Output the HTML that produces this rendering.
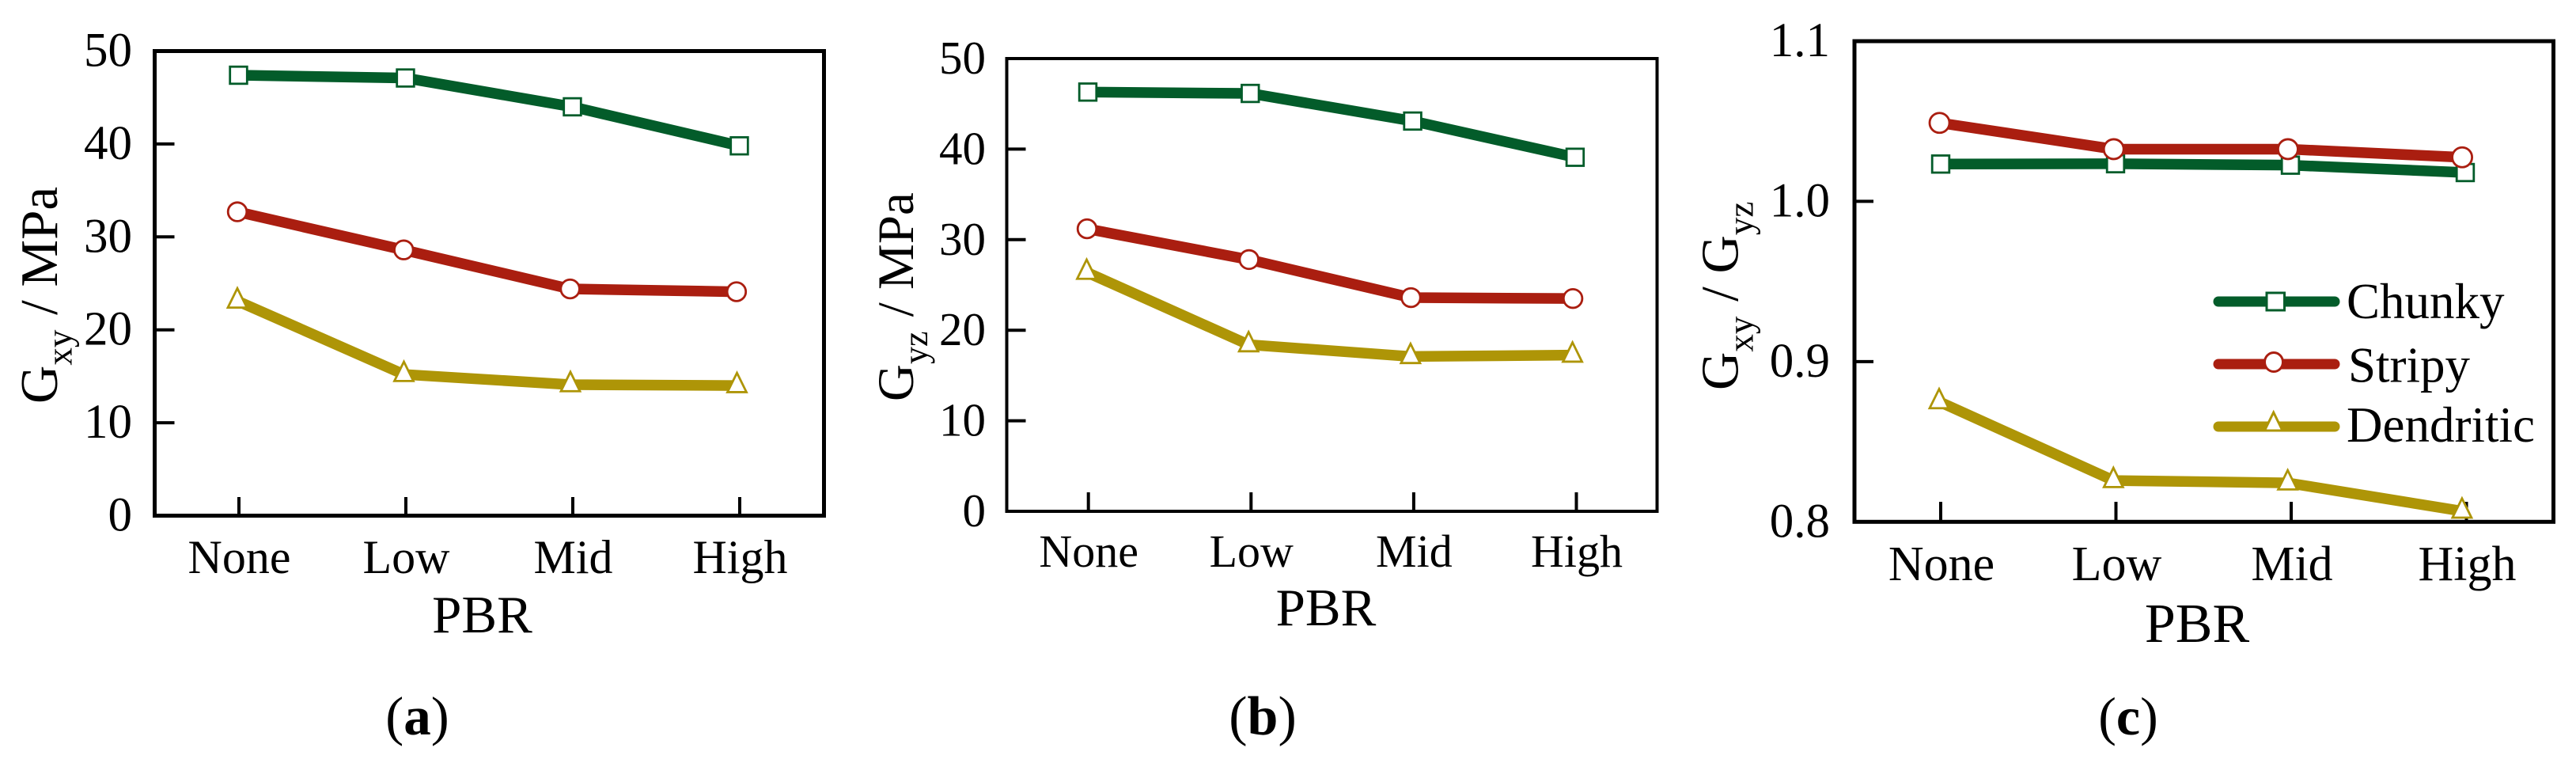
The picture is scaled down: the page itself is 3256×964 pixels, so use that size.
<!DOCTYPE html>
<html lang="en">
<head>
<meta charset="utf-8">
<title>Shear modulus vs PBR</title>
<style>
  html, body { margin: 0; padding: 0; background: #fff; }
  body { width: 3256px; height: 964px; overflow: hidden; }
  svg { display: block; }
  text { font-family: "Liberation Serif", serif; fill: #000; }
</style>
</head>
<body>
<svg id="figure" width="3256" height="964" viewBox="0 0 3256 964" xmlns="http://www.w3.org/2000/svg">
  <rect width="3256" height="964" fill="#fff"/>

  <text transform="translate(72,510) rotate(-90)" font-size="67">G<tspan font-size="45" dy="18.5">xy</tspan><tspan dy="-18.5" dx="2"> / MPa</tspan></text>
  <text x="609.5" y="799" font-size="67" text-anchor="middle">PBR</text>
  <text x="527.5" y="928" font-size="69" text-anchor="middle">(<tspan font-weight="bold">a</tspan>)</text>

  <text transform="translate(1154,507) rotate(-90)" font-size="65">G<tspan font-size="44" dy="18">yz</tspan><tspan dy="-18" dx="2"> / MPa</tspan></text>
  <text x="1676" y="790" font-size="67" text-anchor="middle">PBR</text>
  <text x="1596" y="928" font-size="70" text-anchor="middle">(<tspan font-weight="bold">b</tspan>)</text>

  <text transform="translate(2196.5,493) rotate(-90)" font-size="67">G<tspan font-size="45" dy="19">xy</tspan><tspan dy="-19" dx="2"> / G</tspan><tspan font-size="45" dy="19">yz</tspan></text>
  <text x="2777" y="811" font-size="70" text-anchor="middle">PBR</text>
  <text x="2690" y="928" font-size="68" text-anchor="middle">(<tspan font-weight="bold">c</tspan>)</text>

  <g id="legend">
    <g>
      <line x1="2804" y1="381" x2="2951" y2="381" stroke="#035c2a" stroke-width="13" stroke-linecap="round"/>
      <rect x="2865" y="370" width="22.5" height="22" fill="#fff" stroke="#035c2a" stroke-width="3"/>
      <text x="2966" y="402" font-size="63">Chunky</text>
    </g>
    <g>
      <line x1="2804" y1="460" x2="2951" y2="460" stroke="#aa1e10" stroke-width="13" stroke-linecap="round"/>
      <ellipse cx="2874" cy="457.5" rx="11.5" ry="12" fill="#fff" stroke="#aa1e10" stroke-width="3"/>
      <text x="2968" y="482.5" font-size="63">Stripy</text>
    </g>
    <g>
      <line x1="2804" y1="539" x2="2951" y2="539" stroke="#ae9507" stroke-width="13" stroke-linecap="round"/>
      <path d="M2873.7 521 L2885 544 L2862.4 544 Z" fill="#fff" stroke="#ae9507" stroke-width="3"/>
      <text x="2966" y="558" font-size="63">Dendritic</text>
    </g>
  </g>
</svg>

<script>
// ---- Chart data ----
const categories = ["None", "Low", "Mid", "High"];

const gxyChunky = [47.4, 47.1, 44.0, 39.8];
const gxyStripy = [32.7, 28.6, 24.4, 24.1];
const gxyDendritic = [23.1, 15.2, 14.1, 14.0];

const gyzChunky = [46.3, 46.15, 43.1, 39.1];
const gyzStripy = [31.2, 27.8, 23.6, 23.5];
const gyzDendritic = [26.4, 18.4, 17.1, 17.25];

const ratioChunky = [1.0233, 1.0235, 1.0226, 1.018];
const ratioStripy = [1.049, 1.0326, 1.0326, 1.0275];
const ratioDendritic = [0.875, 0.8258, 0.8243, 0.8067];

const modulusTicks = [0, 10, 20, 30, 40, 50];
const modulusTickLabels = ["0", "10", "20", "30", "40", "50"];
const ratioTicks = [0.8, 0.9, 1.0, 1.1];
const ratioTickLabels = ["0.8", "0.9", "1.0", "1.1"];

// ---- Rendering ----
const NS = "http://www.w3.org/2000/svg";
const figure = document.getElementById("figure");
const legendNode = document.getElementById("legend");
const COLORS = { chunky: "#035c2a", stripy: "#aa1e10", dendritic: "#ae9507" };

function make(tag, attrs, parent) {
  const el = document.createElementNS(NS, tag);
  for (const k in attrs) el.setAttribute(k, attrs[k]);
  parent.appendChild(el);
  return el;
}

function drawPanel(p) {
  const g = make("g", {}, figure);
  
  
  figure.insertBefore(g, legendNode);

  const yScale = v => p.bottom - (v - p.yMin) / (p.yMax - p.yMin) * (p.bottom - p.top);
  const xTick = i => p.tickX0 + i * p.tickDx;

  const frame = make("rect", {
    x: p.left, y: p.top, width: p.right - p.left, height: p.bottom - p.top,
    fill: "none", stroke: "#000", "stroke-width": p.frameW
  }, g);
  
  

  p.yTicks.forEach((v, i) => {
    const y = yScale(v);
    if (i > 0 && i < p.yTicks.length - 1) {
      const t = make("line", { x1: p.left, x2: p.left + p.tickLenY, y1: y, y2: y, stroke: "#000", "stroke-width": 4 }, g);
      
      
    }
    const lab = make("text", { x: p.yLabelX, y: y + 19, "font-size": p.tickFont, "text-anchor": "end" }, g);
    
    
    lab.textContent = p.yLabels[i];
  });

  categories.forEach((c, i) => {
    const x = xTick(i);
    const t = make("line", { x1: x, x2: x, y1: p.bottom, y2: p.xTickTop, stroke: "#000", "stroke-width": 4 }, g);
    
    
    const lab = make("text", { x: x + p.labelShift, y: p.xLabelY, "font-size": p.catFont, "text-anchor": "middle" }, g);
    
    
    lab.textContent = c;
  });

  p.series.forEach(s => {
    const color = COLORS[s.key];
    const xOf = i => s.x0 + i * s.dx;
    const sg = make("g", {}, g);
    
    
    const pts = s.values.map((v, i) => xOf(i) + "," + yScale(v)).join(" ");
    const line = make("polyline", { points: pts, fill: "none", stroke: color, "stroke-width": 13.5, "stroke-linejoin": "round" }, sg);
    
    
    s.values.forEach((v, i) => {
      const x = xOf(i), y = yScale(v);
      let m;
      if (s.key === "chunky") {
        m = make("rect", { x: x - 10.8, y: y - 10.8, width: 21.6, height: 21.6, fill: "#fff", stroke: color, "stroke-width": 2.8 }, sg);
      } else if (s.key === "stripy") {
        m = make("circle", { cx: x, cy: y, r: p.circleR, fill: "#fff", stroke: color, "stroke-width": 2.8 }, sg);
      } else {
        m = make("path", { d: "M" + x + " " + (y - 16) + " L" + (x + 12) + " " + (y + 8.3) + " L" + (x - 12) + " " + (y + 8.3) + " Z", fill: "#fff", stroke: color, "stroke-width": 2.8 }, sg);
      }
      
      
    });
  });
}

drawPanel({
  id: "a", left: 195.5, right: 1041.5, top: 64.5, bottom: 651.5, frameW: 5,
  yMin: 0, yMax: 50, yTicks: modulusTicks, yLabels: modulusTickLabels,
  tickLenY: 25, tickX0: 302, tickDx: 211, xTickTop: 628, labelShift: 0.5,
  yLabelX: 167, xLabelY: 724, tickFont: 61, catFont: 60, circleR: 11.8,
  series: [
    { key: "chunky", values: gxyChunky, x0: 301.5, dx: 211 },
    { key: "stripy", values: gxyStripy, x0: 300, dx: 210.3 },
    { key: "dendritic", values: gxyDendritic, x0: 300, dx: 210.5 }
  ]
});

drawPanel({
  id: "b", left: 1272.5, right: 2094.5, top: 74, bottom: 646, frameW: 4,
  yMin: 0, yMax: 50, yTicks: modulusTicks, yLabels: modulusTickLabels,
  tickLenY: 24, tickX0: 1375.7, tickDx: 205.6, xTickTop: 622, labelShift: 0.5,
  yLabelX: 1246, xLabelY: 716, tickFont: 59, catFont: 58, circleR: 11.8,
  series: [
    { key: "chunky", values: gyzChunky, x0: 1375, dx: 205.3 },
    { key: "stripy", values: gyzStripy, x0: 1374, dx: 204.7 },
    { key: "dendritic", values: gyzDendritic, x0: 1373.5, dx: 204.7 }
  ]
});

drawPanel({
  id: "c", left: 2344, right: 3227.5, top: 52, bottom: 659.3, frameW: 5,
  yMin: 0.8, yMax: 1.1, yTicks: ratioTicks, yLabels: ratioTickLabels,
  tickLenY: 24, tickX0: 2453, tickDx: 221.5, xTickTop: 634, labelShift: 1,
  yLabelX: 2313, xLabelY: 733, tickFont: 61, catFont: 62, circleR: 12.5,
  series: [
    { key: "chunky", values: ratioChunky, x0: 2453, dx: 221 },
    { key: "stripy", values: ratioStripy, x0: 2451.5, dx: 220.2 },
    { key: "dendritic", values: ratioDendritic, x0: 2451, dx: 220.3 }
  ]
});
</script>
</body>
</html>
